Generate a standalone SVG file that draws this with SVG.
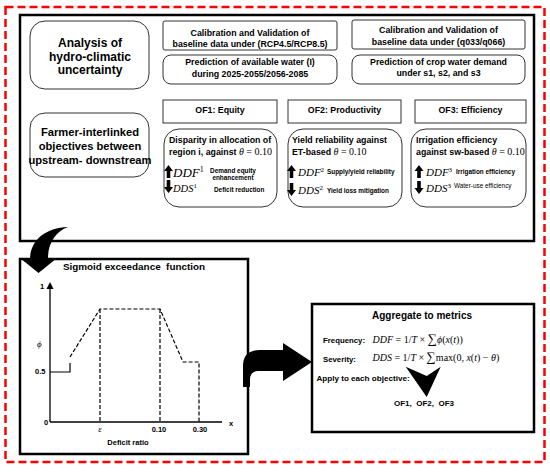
<svg xmlns="http://www.w3.org/2000/svg" width="550" height="473" viewBox="0 0 550 473">
<style>
.b{font-family:"Liberation Sans",Arial,sans-serif;font-weight:bold;fill:#000}
.m{font-family:"Liberation Serif","Times New Roman",serif;fill:#000}
.i{font-style:italic}
.box{fill:#fff;stroke:#333;stroke-width:1}
.frame{fill:none;stroke:#000;stroke-width:2.5}
.dash{fill:none;stroke:#000;stroke-width:1.2;stroke-dasharray:4 2}
</style>
<rect width="550" height="473" fill="#fff"/>
<rect x="5.5" y="7" width="539" height="455" fill="none" stroke="#f00" stroke-width="2.5" stroke-dasharray="8 4"/>

<g id="top-panel">
<rect class="frame" x="20" y="15" width="514" height="226"/>
</g>

<g id="analysis">
<rect class="box" x="30" y="21" width="119" height="68" rx="15"/>
<text class="b" font-size="12" text-anchor="middle"><tspan x="90" y="47">Analysis of</tspan><tspan x="90" y="60.5">hydro-climatic</tspan><tspan x="90" y="74">uncertainty</tspan></text>
</g>

<g id="calib1">
<rect class="box" x="163" y="21" width="174" height="29" rx="2"/>
<text class="b" font-size="8.8" text-anchor="middle"><tspan x="250" y="35.5">Calibration and Validation of</tspan><tspan x="250" y="46.5">baseline data under (RCP4.5/RCP8.5)</tspan></text>
</g>
<g id="pred1">
<rect class="box" x="163" y="55" width="174" height="29" rx="8"/>
<text class="b" font-size="8.8" text-anchor="middle"><tspan x="250" y="65">Prediction of available water (I)</tspan><tspan x="250" y="76.5">during 2025-2055/2056-2085</tspan></text>
</g>
<g id="calib2">
<rect class="box" x="352" y="20" width="173" height="29" rx="2"/>
<text class="b" font-size="8.8" text-anchor="middle"><tspan x="438.5" y="33">Calibration and Validation of</tspan><tspan x="438.5" y="45">baseline data under (q033/q066)</tspan></text>
</g>
<g id="pred2">
<rect class="box" x="352" y="55" width="173" height="29" rx="8"/>
<text class="b" font-size="8.8" text-anchor="middle"><tspan x="438.5" y="64.5">Prediction of crop water demand</tspan><tspan x="438.5" y="76">under s1, s2, and s3</tspan></text>
</g>

<g id="farmer">
<rect class="box" x="30" y="113" width="119" height="64" rx="15"/>
<text class="b" font-size="11.2" text-anchor="middle"><tspan x="90" y="136">Farmer-interlinked</tspan><tspan x="90" y="150">objectives between</tspan><tspan x="90" y="164">upstream- downstream</tspan></text>
</g>

<g id="of1-head">
<rect class="box" x="163" y="100" width="114" height="23"/>
<text class="b" font-size="8.8" text-anchor="middle" x="220" y="113">OF1: Equity</text>
</g>
<g id="of2-head">
<rect class="box" x="288" y="100" width="113" height="23"/>
<text class="b" font-size="8.8" text-anchor="middle" x="344.5" y="113">OF2: Productivity</text>
</g>
<g id="of3-head">
<rect class="box" x="415" y="100" width="111" height="23"/>
<text class="b" font-size="8.8" text-anchor="middle" x="470.5" y="113">OF3: Efficiency</text>
</g>

<defs>
<path id="up" d="M0 -6 L4.5 0 L1.8 0 L1.8 7 L-1.8 7 L-1.8 0 L-4.5 0 Z" fill="#000"/>
<path id="down" d="M0 6 L4.5 0 L1.8 0 L1.8 -7 L-1.8 -7 L-1.8 0 L-4.5 0 Z" fill="#000"/>
</defs>

<g id="of1-detail">
<rect class="box" x="164" y="129" width="113" height="78" rx="15"/>
<text class="b" font-size="8.8" x="169" y="143">Disparity in allocation of</text>
<text class="b" font-size="8.8" x="169" y="155">region i, against <tspan class="m i" font-size="10" font-weight="normal">θ</tspan><tspan class="m" font-size="10" font-weight="normal"> = 0.10</tspan></text>
<use href="#up" x="168.5" y="171"/>
<text class="m i" font-size="13" x="173" y="177">DDF<tspan font-size="8" font-style="normal" dy="-5">1</tspan></text>
<text class="b" font-size="6.4" text-anchor="middle"><tspan x="233" y="173">Demand equity</tspan><tspan x="233" y="180">enhancement</tspan></text>
<use href="#down" x="168.5" y="187"/>
<text class="m i" font-size="10.5" x="173" y="192">DDS<tspan font-size="7" font-style="normal" dy="-4">1</tspan></text>
<text class="b" font-size="6.4" x="214" y="192">Deficit reduction</text>
</g>

<g id="of2-detail">
<rect class="box" x="288" y="129" width="114" height="78" rx="15"/>
<text class="b" font-size="8.8" x="292" y="143">Yield reliability against</text>
<text class="b" font-size="8.8" x="292" y="154.5">ET-based <tspan class="m i" font-size="10" font-weight="normal">θ</tspan><tspan class="m" font-size="10" font-weight="normal"> = 0.10</tspan></text>
<use href="#up" x="291.5" y="171"/>
<text class="m i" font-size="11" x="298" y="176">DDF<tspan font-size="7" font-style="normal" dy="-4">2</tspan></text>
<text class="b" font-size="6.4" x="327" y="174">Supply/yield reliability</text>
<use href="#down" x="291.5" y="190"/>
<text class="m i" font-size="11" x="298" y="194">DDS<tspan font-size="7" font-style="normal" dy="-4">2</tspan></text>
<text class="b" font-size="6.4" x="327" y="193">Yield loss mitigation</text>
</g>

<g id="of3-detail">
<rect class="box" x="411" y="129" width="115" height="78" rx="15"/>
<text class="b" font-size="8.8" x="416" y="143">Irrigation efficiency</text>
<text class="b" font-size="8.8" x="416" y="154.5">against sw-based <tspan class="m i" font-size="10" font-weight="normal">θ</tspan><tspan class="m" font-size="10" font-weight="normal"> = 0.10</tspan></text>
<use href="#up" x="419" y="171"/>
<text class="m i" font-size="11" x="426" y="176">DDF<tspan font-size="7" font-style="normal" dy="-4">3</tspan></text>
<text class="b" font-size="6.4" x="456" y="174">Irrigation efficiency</text>
<use href="#down" x="419" y="188"/>
<text class="m i" font-size="11" x="426" y="192">DDS<tspan font-size="7" font-style="normal" dy="-4">3</tspan></text>
<text font-family="Liberation Sans,Arial,sans-serif" font-size="6.4" x="454" y="188">Water-use efficiency</text>
</g>

<g id="sigmoid">
<rect class="frame" x="20" y="259" width="228" height="195" stroke-width="2"/>
<text class="b" font-size="9.9" text-anchor="middle" x="134" y="270" xml:space="preserve">Sigmoid exceedance  function</text>
<line x1="50" y1="422" x2="50" y2="288" stroke="#000" stroke-width="1.3"/>
<path d="M50 282 L53.5 289 L46.5 289 Z" fill="#000"/>
<line x1="50" y1="422" x2="222" y2="422" stroke="#000" stroke-width="1.3"/>
<polyline points="50,372 70,372 70,363" fill="none" stroke="#000" stroke-width="1.2"/>
<polyline class="dash" points="70,357 100,309 160,309 183,362 199,362 199,422"/>
<line class="dash" x1="100" y1="309" x2="100" y2="422"/>
<line class="dash" x1="160" y1="309" x2="160" y2="422"/>
<text class="b" font-size="7.5" x="40" y="289">1</text>
<text class="m i" font-size="9" x="37" y="347">ϕ</text>
<text class="b" font-size="7.5" x="35" y="374">0.5</text>
<text class="b" font-size="7.5" x="44" y="425">0</text>
<text class="b" font-size="7.5" x="229" y="426">x</text>
<text class="m i" font-size="9" text-anchor="middle" x="100" y="432">ε</text>
<text class="b" font-size="7.5" text-anchor="middle" x="159" y="432">0.10</text>
<text class="b" font-size="7.5" text-anchor="middle" x="200" y="432">0.30</text>
<text class="b" font-size="7.5" text-anchor="middle" x="128" y="445">Deficit ratio</text>
</g>

<g id="aggregate">
<rect class="frame" x="312" y="304" width="222" height="128" stroke-width="2"/>
<text class="b" font-size="10" text-anchor="middle" x="422" y="319">Aggregate to metrics</text>
<text class="b" font-size="7.8" x="323" y="343">Frequency:</text>
<text class="m" font-size="10" x="372.5" y="343"><tspan class="i">DDF</tspan> = 1/<tspan class="i">T</tspan> × <tspan font-size="13">∑</tspan><tspan class="i">ϕ</tspan>(<tspan class="i">x</tspan>(<tspan class="i">t</tspan>))</text>
<text class="b" font-size="7.8" x="323" y="362">Severity:</text>
<text class="m" font-size="10" x="372.5" y="361"><tspan class="i">DDS</tspan> = 1/<tspan class="i">T</tspan> × <tspan font-size="13">∑</tspan>max(0, <tspan class="i">x</tspan>(<tspan class="i">t</tspan>) − <tspan class="i">θ</tspan>)</text>
<text class="b" font-size="8.1" x="316.5" y="381">Apply to each objective:</text>
<path d="M405.7 366.7 L426.7 376 L440.7 366.7 L426.7 397 Z" fill="#000"/>
<text class="b" font-size="8" text-anchor="middle" x="424" y="406" xml:space="preserve">OF1,  OF2,  OF3</text>
</g>

<g id="connectors">
<path d="M68 227 C56 231 48 243 48 258 L57 258 L38.5 273 L20 258 L30 258 C31 240 45 228 68 227 Z" fill="#000"/>
<path d="M243 387 L243 366 Q243 350 260 350 L283 350 L283 343 L312 362 L283 381 L283 371 L258 371 Q250 371 250 380 L250 387 Z" fill="#000"/>
</g>
</svg>
